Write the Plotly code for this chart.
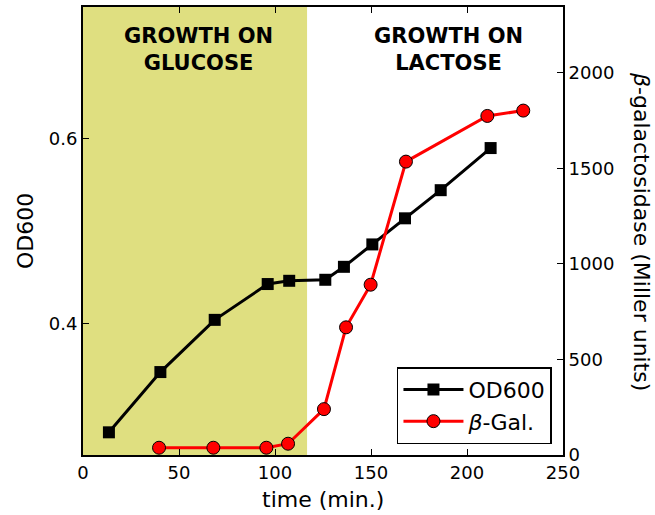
import plotly.graph_objects as go

# ---- data ----
od_time = [13.5, 40.3, 68.6, 96.2, 107.4, 126.2, 135.9, 150.7, 167.7, 186.3, 212.3]
od600 = [0.2825, 0.3476, 0.404, 0.4427, 0.4462, 0.4473, 0.4613, 0.4855, 0.5137, 0.5441, 0.5896]

gal_time = [39.6, 67.9, 95.5, 106.8, 125.5, 137.0, 149.8, 168.2, 210.6, 229.3]
beta_gal = [38, 38, 38, 59, 240, 668, 891, 1535, 1774, 1802]

glucose_end = 116.7  # time where growth switches from glucose to lactose

x_ticks = [0, 50, 100, 150, 200, 250]
od_ticks = [0.4, 0.6]
gal_ticks = [0, 500, 1000, 1500, 2000]

FONT = "DejaVu Sans"

fig = go.Figure()

fig.add_trace(go.Scatter(
    x=od_time, y=od600, name="OD600", mode="lines+markers",
    line=dict(color="black", width=3),
    marker=dict(symbol="square", size=12, color="black"),
    yaxis="y",
))
fig.add_trace(go.Scatter(
    x=gal_time, y=beta_gal, name="<i>β</i>-Gal.", mode="lines+markers",
    line=dict(color="red", width=3),
    marker=dict(symbol="circle", size=13, color="red", line=dict(color="black", width=1)),
    yaxis="y2",
))

fig.add_shape(type="rect", xref="x", yref="paper", x0=0, x1=glucose_end, y0=0, y1=1,
              fillcolor="#dfdf80", line=dict(width=0), layer="below")

fig.add_annotation(text="<b>GROWTH ON<br>GLUCOSE</b>", xref="x", yref="paper",
                   x=60.4, y=(455 - 48) / 450, xanchor="center", yanchor="middle", showarrow=False,
                   font=dict(family=FONT, size=21, color="black"), align="center")
fig.add_annotation(text="<b>GROWTH ON<br>LACTOSE</b>", xref="x", yref="paper",
                   x=190.6, y=(455 - 48) / 450, xanchor="center", yanchor="middle", showarrow=False,
                   font=dict(family=FONT, size=21, color="black"), align="center")

# axis titles
fig.add_annotation(text="OD600", xref="paper", yref="paper", x=(25 - 83) / 480, y=0.5,
                   xanchor="center", yanchor="middle",
                   textangle=-90, showarrow=False, font=dict(family=FONT, size=22, color="black"))
fig.add_annotation(text="<i>β</i>-galactosidase (Miller units)", xref="paper", yref="paper",
                   x=(642 - 83) / 480, y=0.5, xanchor="center", yanchor="middle",
                   textangle=90, showarrow=False,
                   font=dict(family=FONT, size=22, color="black"))
fig.add_annotation(text="time (min.)", xref="paper", yref="paper", x=0.5, y=-45 / 450,
                   xanchor="center", yanchor="middle",
                   showarrow=False, font=dict(family=FONT, size=22, color="black"))

axis_common = dict(showgrid=False, zeroline=False, showline=True, linecolor="black",
                   linewidth=2, ticks="inside", ticklen=6, tickwidth=1, tickcolor="black",
                   tickfont=dict(family=FONT, size=18, color="black"))

fig.update_layout(
    width=655, height=515,
    margin=dict(l=83, r=92, t=5, b=60),
    plot_bgcolor="white", paper_bgcolor="white",
    font=dict(family=FONT, color="black"),
    xaxis=dict(range=[0, 250], tickvals=x_ticks, mirror="ticks", **axis_common),
    yaxis=dict(range=[0.258, 0.742], tickvals=od_ticks, ticktext=["0.4", "0.6"], **axis_common),
    yaxis2=dict(range=[0, 2344], tickvals=gal_ticks, overlaying="y", side="right", **axis_common),
    showlegend=True,
    legend=dict(x=0.977, y=0.024, xanchor="right", yanchor="bottom",
                bordercolor="black", borderwidth=1.5, bgcolor="white",
                font=dict(family=FONT, size=22, color="black"),
                itemwidth=60, tracegroupgap=2),
)

fig.write_html("out.html", post_script="document.body.style.margin='0';",
               config={"displayModeBar": False})
